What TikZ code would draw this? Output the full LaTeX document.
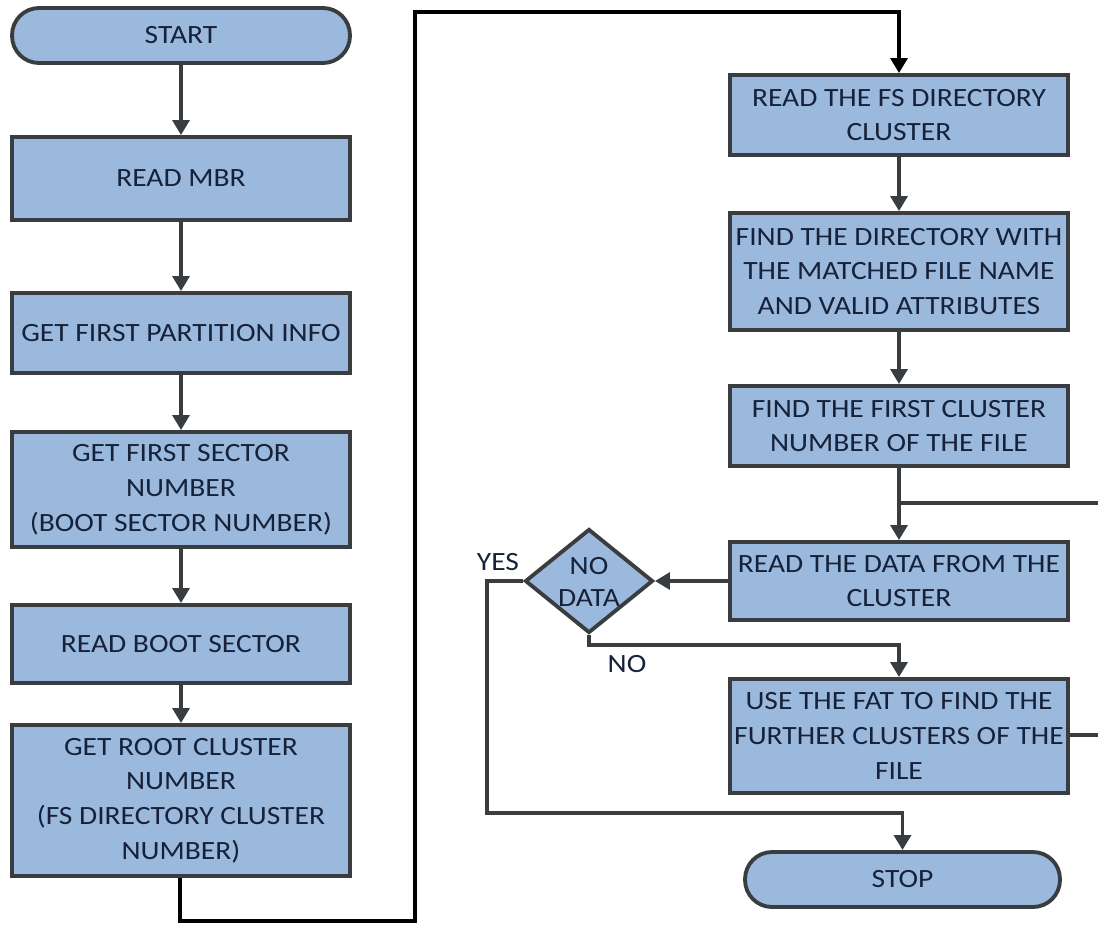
\documentclass[tikz,border=0pt]{standalone}
\usepackage{fontspec}
\setmainfont[FakeStretch=1.12]{Carlito}
\usetikzlibrary{arrows.meta,shapes.geometric}
\definecolor{boxfill}{HTML}{9BB9DC}
\definecolor{boxline}{HTML}{3A3D40}
\definecolor{txtcol}{HTML}{16223A}
\begin{document}
\begin{tikzpicture}[x=0.02cm,y=-0.02cm,
  base/.style={draw=boxline, line width=2.2pt, fill=boxfill, text=txtcol,
    font=\fontsize{15}{19.8}\selectfont, align=center, inner sep=0pt},
  proc/.style={base, rectangle, minimum width=6.76cm},
  term/.style={base, rectangle, rounded corners=0.54cm, minimum height=1.1cm},
  dia/.style={base, diamond, minimum width=2.56cm, minimum height=2.08cm},
  lbl/.style={text=txtcol, font=\fontsize{15}{18.6}\selectfont, align=center, inner sep=0pt},
  conn/.style={draw=boxline, line width=2.2pt, -{Triangle[width=9.5pt,length=8.5pt]}},
  plain/.style={draw=boxline, line width=2.2pt},
  longconn/.style={draw=black, line width=2.6pt, -{Triangle[width=9.5pt,length=8.5pt]}}
]
\useasboundingbox (0,0) rectangle (1098,924);

% left column
\node[term, minimum width=6.76cm] (start) at (181,35.5) {START};
\node[proc, minimum height=1.66cm] (mbr) at (181,178.5) {READ MBR};
\node[proc, minimum height=1.6cm] (part) at (181,333) {GET FIRST PARTITION INFO};
\node[proc, minimum height=2.3cm] (sect) at (181,489.5) {GET FIRST SECTOR\\NUMBER\\(BOOT SECTOR NUMBER)};
\node[proc, minimum height=1.56cm] (boot) at (181,644) {READ BOOT SECTOR};
\node[proc, minimum height=3.02cm] (root) at (181,800.5) {GET ROOT CLUSTER\\NUMBER\\(FS DIRECTORY CLUSTER\\NUMBER)};

% right column
\node[proc, minimum height=1.6cm] (fs) at (899,115) {READ THE FS DIRECTORY\\CLUSTER};
\node[proc, minimum height=2.34cm] (dir) at (899,271.5) {FIND THE DIRECTORY WITH\\THE MATCHED FILE NAME\\AND VALID ATTRIBUTES};
\node[proc, minimum height=1.6cm] (first) at (899,426) {FIND THE FIRST CLUSTER\\NUMBER OF THE FILE};
\node[proc, minimum height=1.56cm] (read) at (899,581) {READ THE DATA FROM THE\\CLUSTER};
\node[proc, minimum height=2.28cm] (fat) at (899,736) {USE THE FAT TO FIND THE\\FURTHER CLUSTERS OF THE\\FILE};
\node[term, minimum width=6.3cm] (stop) at (902.5,879.5) {STOP};

% decision
\node[dia] (nd) at (589,581) {};
\node[lbl] (ndt) at (589,582) {NO\\DATA};
\node[lbl] (yes) at (498,562) {YES};
\node[lbl] (no) at (627,664) {NO};

% left column connectors
\draw[conn] (start) -- (mbr);
\draw[conn] (mbr) -- (part);
\draw[conn] (part) -- (sect);
\draw[conn] (sect) -- (boot);
\draw[conn] (boot) -- (root);

% long connector to right column
\coordinate (b1) at (180,921);
\coordinate (b2) at (415,921);
\coordinate (b3) at (415,12);
\draw[longconn] (root.south -| b1) -- (b1) -- (b2) -- (b3) -| (fs.north);

% right column connectors
\draw[conn] (fs) -- (dir);
\draw[conn] (dir) -- (first);
\draw[conn] (first) -- (read);
\coordinate (j) at (899,503);
\coordinate (e1) at (1098,503);
\draw[plain] (j) -- (e1);
\draw[conn] (read.west) -- (nd.east);

% yes branch
\coordinate (y1) at (487,581);
\coordinate (y2) at (487,813);
\draw[conn] (nd.west) -- (y1) -- (y2) -| (stop.north);

% no branch
\coordinate (n1) at (589,645);
\draw[conn] (nd.south) -- (n1) -| (fat.north);

% fat to right edge
\coordinate (e2) at (1098,735);
\draw[plain] (fat.east |- e2) -- (e2);
\end{tikzpicture}
\end{document}
